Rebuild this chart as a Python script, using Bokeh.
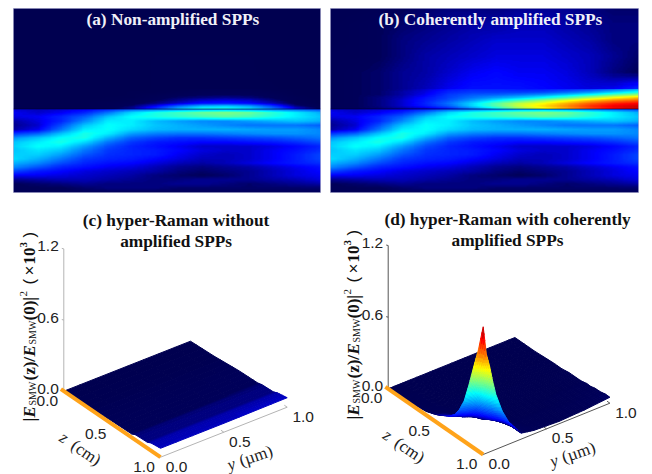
import numpy as np
from bokeh.plotting import figure
from bokeh.layouts import column, row
from bokeh.models import ColumnDataSource, LinearColorMapper
from bokeh.core.properties import value
from bokeh.embed import file_html
from bokeh.resources import INLINE

# ---------- heat maps: field strength in percent of colour range, rows listed from top to bottom
lower_field = [
    [10,9,10,11,14,18,20,22,24,24,22,20,18,16],
    [12,10,12,16,24,34,40,44,48,50,48,42,36,30],
    [11,12,16,22,32,38,40,42,44,46,44,40,36,32],
    [8,11,16,26,36,36,31,28,26,26,28,30,32,30],
    [7,10,20,32,38,36,32,30,28,26,24,24,24,22],
    [8,12,24,36,38,34,31,30,30,30,29,28,28,26],
    [18,22,32,40,36,28,25,24,24,25,26,27,27,26],
    [27,32,38,40,30,22,19,17,17,18,19,20,22,24],
    [32,36,40,34,24,18,15,14,13,13,14,15,17,20],
    [33,38,36,28,20,16,14,12,10,10,10,11,13,16],
    [32,35,32,24,18,16,15,13,11,10,10,12,14,17],
    [33,33,28,21,17,16,15,12,10,9,10,12,15,19],
    [34,30,24,18,16,15,13,11,9,9,10,12,15,19],
    [30,26,20,16,14,13,11,9,8,9,11,13,15,17],
    [26,21,16,14,12,11,9,7,6,7,8,10,12,14],
    [19,15,13,11,10,9,8,6,5,6,7,9,11,13],
    [12,12,11,10,9,8,6,5,4,5,7,9,11,12],
    [7,8,9,9,8,7,6,6,7,7,7,8,9,11],
    [4,5,6,7,6,6,6,7,7,6,5,6,7,8],
    [4,4,4,5,6,6,6,5,5,5,5,5,5,5],
    [3,3,4,4,4,4,4,4,4,4,4,4,4,4],
]
upper_far_a = [
    [0,0,0,0,0,0,0,0,0,0,0,0,0,0],
    [0,0,0,0,0,0,0,0,0,0,0,0,0,0],
    [0,0,0,0,0,0,1,1,1,1,1,0,0,0],
    [0,0,0,0,0,0,1,1,1,1,1,1,0,0],
]
upper_near_a = [
    [0,0,0,0,0,0,1,1,2,2,2,1,1,0],
    [0,0,0,0,0,1,1,2,3,3,3,2,1,0],
    [0,0,0,0,0,1,2,3,4,4,4,3,1,0],
    [0,0,0,0,1,1,3,5,6,7,6,4,2,0],
    [1,1,1,1,1,2,4,7,10,11,10,6,2,1],
    [1,1,1,1,2,3,6,10,14,15,13,9,3,1],
    [1,1,1,1,2,5,12,22,30,32,28,18,6,2],
    [1,1,1,2,3,8,18,32,40,40,36,26,12,4],
]
upper_far_b = [
    [2,2,3,4,5,6,6,6,7,7,7,6,5,5],
    [2,3,4,5,6,7,8,8,9,9,8,7,6,6],
    [2,3,4,6,7,8,9,10,10,10,9,8,6,6],
    [3,3,4,6,8,9,10,11,11,11,10,9,7,5],
    [3,4,5,7,8,10,12,13,12,12,11,9,6,4],
    [3,4,5,7,9,12,14,14,14,13,12,11,12,16],
]
upper_near_b = [
    [3,4,5,7,10,14,16,16,15,15,16,18,22,28],
    [3,4,5,8,11,16,18,18,18,19,22,26,32,38],
    [3,4,5,8,12,18,21,22,24,27,32,38,46,52],
    [3,4,6,9,14,19,24,28,32,38,45,54,62,68],
    [3,4,6,10,15,21,28,36,44,52,60,68,74,78],
    [3,4,6,10,16,24,34,46,56,62,70,78,84,87],
    [3,4,6,10,15,22,34,46,58,66,74,83,89,92],
    [3,4,5,7,9,14,24,36,50,60,70,80,88,93],
]
title_a = "(a) Non-amplified SPPs"
title_b = "(b) Coherently amplified SPPs"
title_c = ["(c) hyper-Raman without", "amplified SPPs"]
title_d = ["(d) hyper-Raman with coherently", "amplified SPPs"]

# ---------- surfaces
e_ticks = [0.0, 0.6, 1.2]
z_ticks = [0.0, 0.5, 1.0]
y_ticks = [0.0, 0.5, 1.0]
c_y = [0.0, 0.5, 1.0]
c_z = [0.0, 0.25, 0.5, 0.7, 0.74, 0.86, 0.9, 1.0]
c_e = [
    [0.0, 0.0, 0.0],
    [0.01, 0.01, 0.01],
    [0.025, 0.025, 0.03],
    [0.03, 0.03, 0.035],
    [0.045, 0.045, 0.045],
    [0.05, 0.05, 0.05],
    [0.065, 0.065, 0.065],
    [0.075, 0.075, 0.08],
]
d_y = [0, .025, .05, .075, .1, .15, .2, .3, .4, .6, .8, 1]
d_z = [0, .2, .4, .5, .57, .65, .7, .75, .8, .85, .9, .95, 1]
d_e = [
    [0,0,0,0,0,0,0,0,0,0,0,0],
    [.01,.01,.01,.01,.01,0,0,0,0,0,0,0],
    [.03,.03,.02,.02,.02,.01,.01,.01,0,0,.01,.01],
    [.06,.05,.05,.04,.03,.02,.02,.01,.01,.01,.01,.01],
    [.09,.08,.07,.06,.05,.04,.03,.01,.01,.01,.01,.02],
    [.13,.12,.11,.10,.08,.06,.04,.02,.01,.01,.01,.02],
    [.17,.16,.15,.13,.12,.09,.05,.02,.01,.01,.01,.02],
    [.24,.23,.21,.19,.17,.12,.07,.03,.01,.01,.02,.03],
    [.34,.32,.30,.27,.24,.16,.10,.03,.01,.01,.02,.03],
    [.50,.46,.42,.37,.30,.20,.13,.04,.02,.02,.02,.04],
    [.68,.58,.50,.43,.36,.25,.16,.05,.02,.02,.03,.04],
    [.85,.70,.60,.50,.41,.28,.18,.05,.03,.02,.03,.05],
    [1.07,.83,.72,.58,.46,.30,.19,.05,.03,.02,.03,.05],
]

# ---------- jet style colour map
stops = [0, .04, .125, .375, .625, .875, 1]
reds = [0, 0, 0, 0, 255, 255, 127]
greens = [0, 0, 0, 255, 255, 0, 0]
blues = [80, 90, 255, 255, 0, 0, 0]
t = np.linspace(0, 1, 256)
jet = ["#%02x%02x%02x" % (int(np.interp(v, stops, reds)), int(np.interp(v, stops, greens)), int(np.interp(v, stops, blues))) for v in t]
SERIF = value("Liberation Serif")
SANS = value("Liberation Sans")


def shade(arr, factor=12):
    """Smooth display of a table of read values, as a shaded image."""
    a = np.array(arr, dtype=float)
    r, c = a.shape
    yi = np.linspace(0, r - 1, r * factor)
    xi = np.linspace(0, c - 1, c * factor)
    by_col = np.array([np.interp(yi, np.arange(r), a[:, j]) for j in range(c)])
    return np.array([np.interp(xi, np.arange(c), by_col[:, i]) for i in range(len(yi))])


def heat(title, far, near, lb, rb):
    p = figure(width=326, height=200, x_range=(0, 1), y_range=(0, 184), output_backend="svg",
               toolbar_location=None, x_axis_type=None, y_axis_type=None,
               min_border_left=lb, min_border_right=rb, min_border_top=8, min_border_bottom=8)
    p.grid.visible = False
    p.outline_line_color = "#b4b4d4"
    p.background_fill_color = "#000050"
    cm = LinearColorMapper(palette=jet, low=0, high=100)
    for arr, y0, h in ((lower_field, 0, 83.5), (near, 83.5, 20), (far, 103.5, 80.5)):
        p.image(image=[np.flipud(shade(arr))], x=0, y=y0, dw=1, dh=h, color_mapper=cm)
    p.line([0, 1], [83.5, 83.5], line_color="#000030", line_width=0.8, line_alpha=0.7)
    p.text([0.519], [173], text=[title], text_color="#f0f0f8", text_font=SERIF, text_font_style="bold",
           text_font_size="17.3px", text_align="center", text_baseline="middle")
    return p


def surface3d(titles, tx, tw, ys, zs, es, high, o, zv, yv, ev, axc, lx, bx):
    p = figure(width=326, height=274, x_range=(0, 326), y_range=(274, 0), output_backend="svg",
               toolbar_location=None, x_axis_type=None, y_axis_type=None,
               min_border=0, outline_line_color=None)
    p.grid.visible = False

    def pr(y, z, e):
        return (o[0] + zv[0] * z + yv[0] * y, o[1] + zv[1] * z + yv[1] * y + ev * e)

    # axes
    top = pr(0, 0, e_ticks[-1])
    base = pr(0, 0, 0)
    p.line([base[0], top[0]], [base[1], top[1]], line_color=axc, line_width=1)
    for e in e_ticks:
        a = pr(0, 0, e)
        p.line([a[0] - 2, a[0]], [a[1] - 0.5, a[1]], line_color=axc, line_width=1)
    a, b = pr(0, 1, 0), pr(1, 1, 0)
    p.line([a[0], b[0]], [a[1], b[1]], line_color=axc, line_width=1)
    for y in y_ticks:
        a = pr(y, 1, 0)
        b = pr(y, 0.97, 0)
        p.line([a[0], b[0]], [a[1], b[1]], line_color=axc, line_width=1)

    # surface, painted from the far corner to the near one
    xs_, ys_, cs_ = [], [], []
    cm = LinearColorMapper(palette=jet, low=0, high=high)
    es = np.array(es, dtype=float)
    n = 4
    w = np.linspace(0, 1, n + 1)
    for i in range(len(zs) - 1):
        for a in range(n):
            for j in range(len(ys) - 2, -1, -1):
                for b in range(n - 1, -1, -1):
                    qx, qy, qv = [], [], []
                    for (da, db) in ((a, b), (a, b + 1), (a + 1, b + 1), (a + 1, b)):
                        u, v = w[da], w[db]
                        yy = ys[j] + v * (ys[j + 1] - ys[j])
                        zz = zs[i] + u * (zs[i + 1] - zs[i])
                        ee = ((1 - u) * (1 - v) * es[i, j] + (1 - u) * v * es[i, j + 1]
                              + u * (1 - v) * es[i + 1, j] + u * v * es[i + 1, j + 1])
                        sx, sy = pr(yy, zz, ee)
                        qx.append(sx); qy.append(sy); qv.append(ee)
                    xs_.append(qx); ys_.append(qy); cs_.append(float(np.mean(qv)))
    src = ColumnDataSource(dict(xs=xs_, ys=ys_, v=cs_))
    fc = {"field": "v", "transform": cm}
    p.patches("xs", "ys", source=src, fill_color=fc, line_color=fc, line_width=1)

    # orange strip
    a, b = pr(0, -0.03, 0), pr(0, 1, 0)
    p.line([a[0], b[0]], [a[1], b[1]], line_color="#ffa31a", line_width=4)

    # tick labels
    tk = dict(text_font=SANS, text_font_size="15.5px", text_color="#222222")
    for e in e_ticks:
        a = pr(0, 0, e)
        p.text([a[0] - 5], [a[1] - 2.5], text=["%.1f" % e], text_align="right", text_baseline="middle", **tk)
    for z in z_ticks:
        a = pr(0, z, 0)
        p.text([a[0] - 16.5], [a[1] + 9.5], text=["%.1f" % z], text_align="center", text_baseline="middle", **tk)
    for y in y_ticks:
        a = pr(y, 1, 0)
        p.text([a[0] + 16], [a[1] + 9.5], text=["%.1f" % y], text_align="center", text_baseline="middle", **tk)

    # axis names
    m = pr(0, 0.5, 0)
    nm = dict(text_font=SERIF, text_font_size="17px", text_color="#222222", text_align="center", text_baseline="middle")
    p.text([m[0] - 31 - 17], [m[1] + 25 - 11.5], text=["z"], angle=[-0.6], text_font_style="italic", **nm)
    p.text([m[0] - 31 + 5], [m[1] + 25 + 3.5], text=["(cm)"], angle=[-0.6], **nm)
    m = pr(0.5, 1, 0)
    p.text([m[0] + 26.5 - 19], [m[1] + 25.5 + 6.5], text=["y"], angle=[0.33], text_font_style="italic", **nm)
    p.text([m[0] + 26.5 + 5.5], [m[1] + 25.5 - 2], text=["(\u00b5m)"], angle=[0.33], **nm)

    # titles
    for s, yy in zip(titles, (tw[0], tw[1])):
        p.text([tx], [yy], text=[s], text_font=SERIF, text_font_style="bold", text_font_size="17.3px",
               text_color="#111111", text_align="center", text_baseline="middle")

    # vertical label assembled from pieces
    pieces = [
        ("|", 0, 0, 17, "bold", "s"), ("E", 4, 0, 17, "bold italic", "s"), ("SMW", 16, 3, 10, "normal", "s"),
        ("(z)/", 41, 0, 17, "bold", "s"), ("E", 65, 0, 17, "bold italic", "s"), ("SMW", 77, 3, 10, "normal", "s"),
        ("(0)|", 101, 0, 17, "bold", "s"), ("2", 125, -6, 11, "normal", "s"),
        ("(", 137, 0, 17, "normal", "a"), ("\u00d7", 146, 0, 17, "normal", "a"), ("10", 157, 0, 17, "bold", "s"),
        ("3", 174, -6, 11, "bold", "s"), (")", 184, 0, 17, "normal", "a"),
    ]
    for s, dy, dx, sz, st, fam in pieces:
        p.text([lx + dx], [bx - dy], text=[s], angle=[np.pi / 2], text_font=SERIF if fam == "s" else SANS,
               text_font_style=st, text_font_size="%dpx" % sz, text_color="#111111", text_align="left",
               text_baseline="alphabetic")
    return p


pa = heat(title_a, upper_far_a, upper_near_a, 13, 6)
pb = heat(title_b, upper_far_b, upper_near_b, 4, 14)
pc = surface3d(title_c, 175.6, (20, 40.7), c_y, c_z, c_e, 0.8, (63.3, 190.7), (96.7, 66), (126.7, -50), -118.6, "#b4b4b4", 29, 221)
pd_ = surface3d(title_d, 181, (19, 39.5), d_y, d_z, d_e, 1.1, (61.7, 188.3), (95, 65.7), (126.7, -51.3), -119.4, "#555555", 27, 219)
top_row = row(pa, pb, spacing=0)
bot_row = row(pc, pd_, spacing=0)
page = column(top_row, bot_row, spacing=0)
open("out.html", "w").write(file_html(page, INLINE))
